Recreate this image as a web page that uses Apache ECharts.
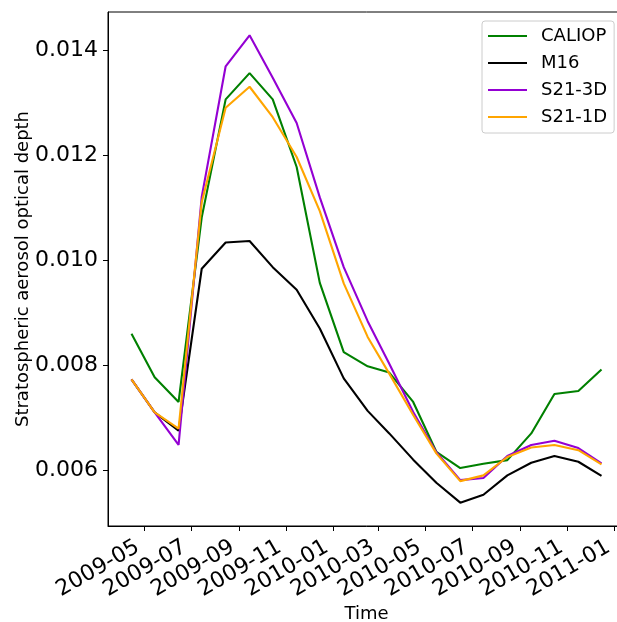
<!DOCTYPE html>
<html>
<head>
<meta charset="utf-8">
<script src="https://cdn.jsdelivr.net/npm/echarts@6/dist/echarts.min.js"></script>
<style>
  html, body { margin: 0; padding: 0; background: #fff; overflow: hidden; }
  #chart { width: 640px; height: 622px; }
</style>
</head>
<body>
<div id="chart"></div>
<script>
// monthly means, mid-month, 2009-04 .. 2010-12
var months = ['2009-04', '2009-05', '2009-06', '2009-07', '2009-08', '2009-09', '2009-10',
    '2009-11', '2009-12', '2010-01', '2010-02', '2010-03', '2010-04', '2010-05', '2010-06',
    '2010-07', '2010-08', '2010-09', '2010-10', '2010-11', '2010-12'];

var caliop = [0.00860, 0.00777, 0.00730, 0.01082, 0.01307, 0.01357, 0.01307, 0.01178, 0.00957,
    0.00825, 0.00798, 0.00786, 0.00730, 0.00635, 0.00604, 0.00612, 0.00619, 0.00670, 0.00745,
    0.00751, 0.00792];
var m16 = [0.00773, 0.00710, 0.00675, 0.00984, 0.01034, 0.01037, 0.00987, 0.00944, 0.00870,
    0.00775, 0.00713, 0.00670, 0.00620, 0.00576, 0.00538, 0.00553, 0.00590, 0.00614, 0.00627,
    0.00616, 0.00589];
var s21_3d = [0.00773, 0.00710, 0.00648, 0.01121, 0.01370, 0.01429, 0.01348, 0.01262, 0.01120,
    0.00987, 0.00884, 0.00803, 0.00711, 0.00634, 0.00581, 0.00585, 0.00627, 0.00648, 0.00656,
    0.00642, 0.00613];
var s21_1d = [0.00773, 0.00710, 0.00679, 0.01111, 0.01291, 0.01331, 0.01273, 0.01197, 0.01094,
    0.00956, 0.00854, 0.00784, 0.00705, 0.00632, 0.00579, 0.00590, 0.00625, 0.00643, 0.00648,
    0.00638, 0.00611];

var xTickLabels = ['2009-05', '2009-07', '2009-09', '2009-11', '2010-01', '2010-03',
    '2010-05', '2010-07', '2010-09', '2010-11', '2011-01'];
var yTicks = [0.006, 0.008, 0.010, 0.012, 0.014];

function toTime(s, day) {
    var p = s.split('-');
    return Date.UTC(+p[0], +p[1] - 1, day);
}

var xTickValues = xTickLabels.map(function (s) { return toTime(s, 1); });
var times = months.map(function (s) { return toTime(s, 15); });

function pairs(vals) {
    return vals.map(function (v, i) { return [times[i], v]; });
}

// matplotlib style 5% margins
var tMin = times[0], tMax = times[times.length - 1];
var tPad = (tMax - tMin) * 0.05;
var allVals = caliop.concat(m16, s21_3d, s21_1d);
var vMin = Math.min.apply(null, allVals), vMax = Math.max.apply(null, allVals);
var vPad = (vMax - vMin) * 0.05;

var font = 'DejaVu Sans';
var chart = echarts.init(document.getElementById('chart'));

function lineSeries(name, vals, color) {
    return {
        name: name,
        type: 'line',
        data: pairs(vals),
        symbol: 'none',
        lineStyle: { color: color, width: 2.1 },
        itemStyle: { color: color }
    };
}

var option = {
    animation: false,
    backgroundColor: '#fff',
    grid: {
        left: 108, right: 15, top: 12, bottom: 96,
        outerBoundsMode: 'none',
        show: true, borderColor: '#000', borderWidth: 1, backgroundColor: 'transparent'
    },
    legend: {
        orient: 'vertical',
        left: 482, top: 21,
        padding: [5, 7, 6, 6],
        itemWidth: 39, itemHeight: 2,
        itemGap: 7,
        icon: 'rect',
        borderColor: '#cccccc', borderWidth: 1, borderRadius: 3,
        backgroundColor: 'rgba(255,255,255,0.8)',
        textStyle: { fontFamily: font, fontSize: 18, color: '#000', lineHeight: 20, padding: [0, 0, 0, 9] },
        data: ['CALIOP', 'M16', 'S21-3D', 'S21-1D']
    },
    xAxis: {
        type: 'value',
        min: tMin - tPad, max: tMax + tPad,
        name: 'Time',
        nameLocation: 'middle',
        nameGap: 79,
        nameMoveOverlap: false,
        nameTextStyle: { fontFamily: font, fontSize: 18, color: '#000' },
        axisLine: { lineStyle: { color: '#000', width: 1 } },
        axisTick: { show: true, inside: false, length: 5, lineStyle: { color: '#000' }, customValues: xTickValues },
        axisLabel: {
            customValues: xTickValues,
            rotate: 30,
            margin: 16,
            padding: [0, 7, 0, 0],
            fontFamily: font, fontSize: 22, color: '#000',
            formatter: function (val) {
                var i = xTickValues.indexOf(val);
                return i >= 0 ? xTickLabels[i] : '';
            }
        },
        splitLine: { show: false }
    },
    yAxis: {
        type: 'value',
        min: vMin - vPad, max: vMax + vPad,
        name: 'Stratospheric aerosol optical depth',
        nameLocation: 'middle',
        nameGap: 76,
        nameMoveOverlap: false,
        nameTextStyle: { fontFamily: font, fontSize: 18, color: '#000' },
        axisLine: { show: true, lineStyle: { color: '#000', width: 1 } },
        axisTick: { show: true, inside: false, length: 5, lineStyle: { color: '#000' }, customValues: yTicks },
        axisLabel: {
            customValues: yTicks,
            margin: 10,
            fontFamily: font, fontSize: 22, color: '#000',
            formatter: function (v) { return v.toFixed(3); }
        },
        splitLine: { show: false }
    },
    series: [
        lineSeries('CALIOP', caliop, '#008000'),
        lineSeries('M16', m16, '#000000'),
        lineSeries('S21-3D', s21_3d, '#9400d3'),
        lineSeries('S21-1D', s21_1d, '#ffa500')
    ]
};
chart.setOption(option);
</script>
</body>
</html>
